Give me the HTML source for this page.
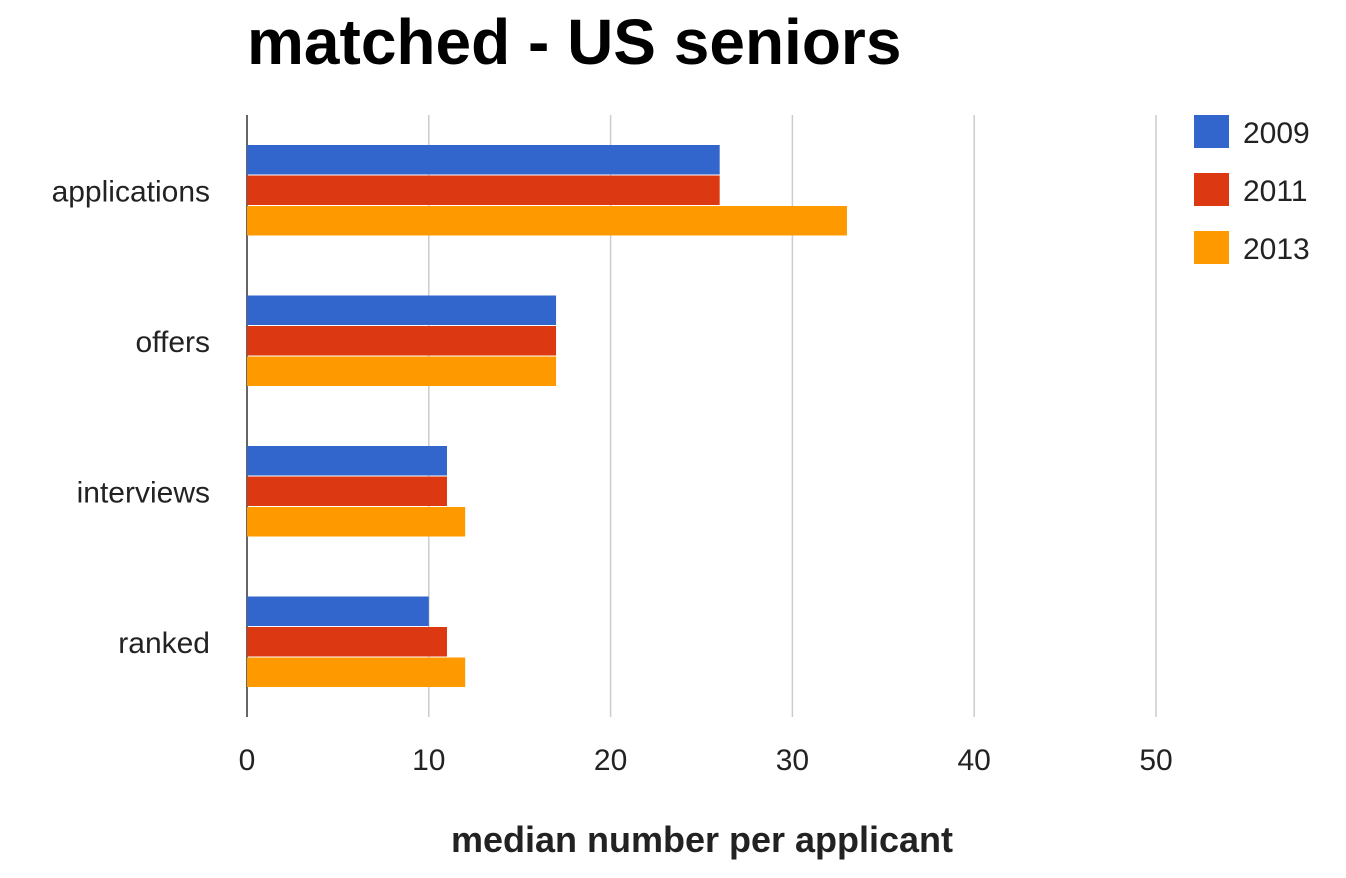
<!DOCTYPE html>
<html><head><meta charset="utf-8"><style>
html,body{margin:0;padding:0;background:#fff;}
svg{display:block;font-family:"Liberation Sans",Arial,sans-serif;}
</style></head><body>
<svg id="chart" width="1346" height="878">
<text x="247" y="64" font-size="64" font-weight="bold" fill="#000">matched - US seniors</text>
<g id="grid"></g>
<g id="bars"></g>
<g id="yl"></g>
<g id="xl"></g>
<g id="legend"></g>
<text x="702" y="852" font-size="36" font-weight="bold" text-anchor="middle" fill="#222">median number per applicant</text>
</svg>
<script>
const categories = ["applications","offers","interviews","ranked"];
const seriesNames = ["2009","2011","2013"];
const s2009 = [26,17,11,10];
const s2011 = [26,17,11,11];
const s2013 = [33,17,12,12];
const xTicks = [0,10,20,30,40,50];
(function(){
const series = [s2009,s2011,s2013];
const colors = ["#3366cc","#dc3912","#ff9900"];
const NS="http://www.w3.org/2000/svg";
const x0=247, x1=1156, plotTop=115, plotBottom=717;
const xs = v => x0 + (v/50)*(x1-x0);
const band=(plotBottom-plotTop)/categories.length;
function mk(tag,attrs,parent){const e=document.createElementNS(NS,tag);for(const k in attrs)e.setAttribute(k,attrs[k]);parent.appendChild(e);return e;}
const grid=document.getElementById('grid'),bars=document.getElementById('bars'),yl=document.getElementById('yl'),xl=document.getElementById('xl'),lg=document.getElementById('legend');
xTicks.forEach(t=>{
  if(t>0){const l=mk('line',{x1:xs(t),x2:xs(t),y1:plotTop,y2:plotBottom,stroke:'#cccccc','stroke-width':1.5},grid);
  
  }
  const tx=mk('text',{x:xs(t),y:770,'font-size':30,'text-anchor':'middle',fill:'#222'},xl);
  tx.textContent=t;
  
  
});
const bh=29.5, gap=1;
categories.forEach((c,i)=>{
  const cy=plotTop+band*i+band/2;
  series.forEach((s,j)=>{
    const y=cy-1.5*bh-gap+j*(bh+gap);
    const r=mk('rect',{x:x0,y:y,width:xs(s[i])-x0,height:bh,fill:colors[j]},bars);
    
    
  });
  const t=mk('text',{x:210,y:cy+11,'font-size':30,'text-anchor':'end',fill:'#222'},yl);
  t.textContent=c;
  
  
});
const ax=mk('line',{x1:x0,x2:x0,y1:plotTop,y2:plotBottom,stroke:'#333','stroke-width':1.5},grid);


seriesNames.forEach((n,j)=>{
  const y=115+j*58;
  const r=mk('rect',{x:1194,y:y,width:35,height:33,fill:colors[j]},lg);
  
  
  const t=mk('text',{x:1243,y:y+28,'font-size':30,fill:'#222'},lg);
  t.textContent=n;
  
  
});
})();
</script>
</body></html>
